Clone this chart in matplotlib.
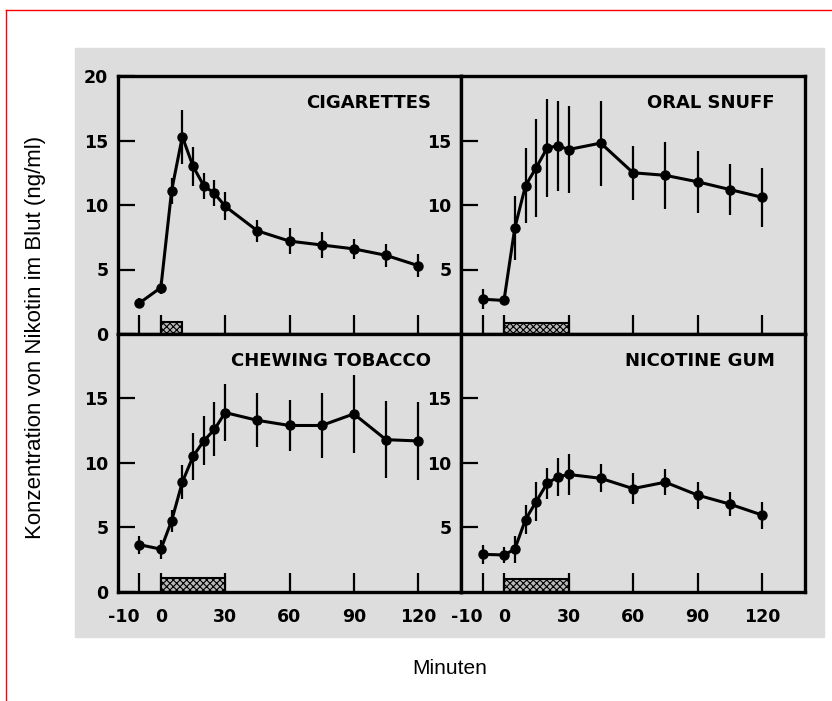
import numpy as np
import matplotlib.pyplot as plt
from matplotlib.patches import Rectangle
from matplotlib.lines import Line2D

############################################################
# Data

times = [-10, 0, 5, 10, 15, 20, 25, 30, 45, 60, 75, 90, 105, 120]

cig_mean = [2.4, 3.6, 11.1, 15.3, 13.0, 11.5, 10.9, 9.9, 8.0, 7.2, 6.9, 6.6, 6.1, 5.3]
cig_err = [0.4, 0.5, 1.0, 2.1, 1.5, 1.0, 1.0, 1.1, 0.85, 1.0, 1.0, 0.75, 0.9, 0.9]

snuff_mean = [2.7, 2.6, 8.2, 11.5, 12.9, 14.4, 14.6, 14.3, 14.8, 12.5, 12.3, 11.8, 11.2, 10.6]
snuff_err = [0.8, 0.3, 2.5, 2.9, 3.8, 3.8, 3.5, 3.4, 3.3, 2.1, 2.6, 2.4, 2.0, 2.3]

chew_mean = [3.65, 3.3, 5.5, 8.5, 10.5, 11.7, 12.6, 13.9, 13.3, 12.9, 12.9, 13.8, 11.8, 11.7]
chew_err = [0.7, 0.75, 0.85, 1.3, 1.85, 1.9, 2.1, 2.2, 2.1, 2.0, 2.5, 3.05, 3.0, 3.0]

gum_mean = [2.9, 2.85, 3.3, 5.6, 7.0, 8.4, 8.9, 9.1, 8.8, 8.0, 8.5, 7.5, 6.8, 5.95]
gum_err = [0.75, 0.6, 1.05, 1.1, 1.5, 1.2, 1.5, 1.6, 1.1, 1.2, 1.0, 1.05, 0.9, 1.05]

titles = ['CIGARETTES', 'ORAL SNUFF', 'CHEWING TOBACCO', 'NICOTINE GUM']
use_minutes = [10, 30, 30, 30]       # length of the hatched "use" bar
use_height = [0.9, 0.85, 1.05, 0.95]

xticks = [-10, 0, 30, 60, 90, 120]
xticklabels = ['-10', '0', '30', '60', '90', '120']

############################################################
# Figure

bg = '#dddddd'
plt.rcParams['hatch.linewidth'] = 0.8

fig = plt.figure(figsize=(8.32, 7.01), dpi=100)

# gray scan area + red frame
fig.patches.append(Rectangle((75/832, 1-637/701), 749/832, 589/701,
                             transform=fig.transFigure, color=bg, zorder=-5))
fig.lines.append(Line2D([6/832, 6/832], [0, 1-10/701], transform=fig.transFigure,
                        color='red', lw=1))
fig.lines.append(Line2D([6/832, 1], [1-10/701, 1-10/701], transform=fig.transFigure,
                        color='red', lw=1))

x0, xm, x1 = 118/832, 461/832, 805/832
y1, ym, y0 = 1-76/701, 1-334/701, 1-591.7/701
rects = [[x0, ym, xm-x0, y1-ym], [xm, ym, x1-xm, y1-ym],
         [x0, y0, xm-x0, ym-y0], [xm, y0, x1-xm, ym-y0]]

means = [cig_mean, snuff_mean, chew_mean, gum_mean]
errs = [cig_err, snuff_err, chew_err, gum_err]

tfont = dict(family='DejaVu Sans', weight='bold', size=12.5)

for i in range(4):
    ax = fig.add_axes(rects[i])
    ax.set_facecolor(bg)
    ax.set_xlim(-20, 140)
    ax.set_ylim(0, 20)

    ax.errorbar(times, means[i], yerr=errs[i], color='k', lw=2.2, elinewidth=1.6,
                capsize=0, marker='o', ms=6.5, zorder=3)
    ax.bar(0, use_height[i], width=use_minutes[i], align='edge', facecolor='#b8b8b8',
           edgecolor='k', hatch='xxxxx', lw=1.5, zorder=2)

    ax.text(126, 17.9, titles[i], ha='right', va='center',
            family='DejaVu Sans', weight='bold', size=13)

    for s in ax.spines.values():
        s.set_linewidth(2.4)

    ax.set_xticks(xticks)
    ax.tick_params(axis='x', direction='in', length=14, width=1.6, pad=12)
    if i >= 2:
        ax.set_xticklabels(xticklabels, **tfont)
        ax.get_xticklabels()[0].set_ha('right')
    else:
        ax.set_xticklabels([])

    if i == 0:
        yt = [0, 5, 10, 15, 20]
    elif i == 2:
        yt = [0, 5, 10, 15]
    else:
        yt = [5, 10, 15]
    ax.set_yticks(yt)
    ax.set_yticklabels([str(v) for v in yt], **tfont)
    ax.tick_params(axis='y', direction='in', length=12, width=1.6, pad=7)

fig.text(450/832, 1-669/701, 'Minuten', ha='center', va='center',
         family='Liberation Sans', size=15)
fig.text(36/832, 1-337/701, 'Konzentration von Nikotin im Blut (ng/ml)', ha='center',
         va='center', rotation=90, family='Liberation Sans', size=16)

fig.savefig('out.png', dpi=100)
